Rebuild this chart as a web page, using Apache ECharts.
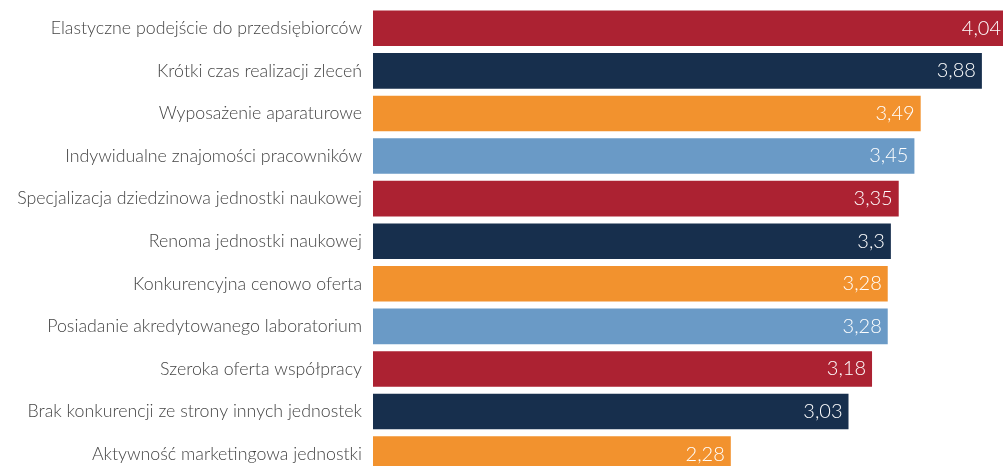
<!DOCTYPE html>
<html>
<head>
<meta charset="utf-8">
<script src="https://cdn.jsdelivr.net/npm/echarts@6/dist/echarts.min.js"></script>
<style>
  html, body { margin: 0; padding: 0; background: #fff; }
  #chart { width: 1003px; height: 466px; }
</style>
</head>
<body>
<div id="chart"></div>
<script>
// Factors rated by respondents (mean score), listed top to bottom
const categories = [
  'Elastyczne podejście do przedsiębiorców',
  'Krótki czas realizacji zleceń',
  'Wyposażenie aparaturowe',
  'Indywidualne znajomości pracowników',
  'Specjalizacja dziedzinowa jednostki naukowej',
  'Renoma jednostki naukowej',
  'Konkurencyjna cenowo oferta',
  'Posiadanie akredytowanego laboratorium',
  'Szeroka oferta współpracy',
  'Brak konkurencji ze strony innych jednostek',
  'Aktywność marketingowa jednostki'
];
const scores = [4.04, 3.88, 3.49, 3.45, 3.35, 3.3, 3.28, 3.28, 3.18, 3.03, 2.28];

// Bars cycle through a four-colour palette
const palette = ['#AC2232', '#172F4D', '#F2922E', '#6A9AC6'];

const chart = echarts.init(document.getElementById('chart'), null, { renderer: 'canvas' });

chart.setOption({
  animation: false,
  grid: {
    left: 373, top: 7, width: 634, height: 468.4,
    containLabel: false,
    outerBoundsMode: 'none'
  },
  xAxis: {
    type: 'value',
    min: 0,
    max: 4.04,
    show: false
  },
  yAxis: {
    type: 'category',
    data: categories,
    inverse: true,
    axisLine: { show: false },
    axisTick: { show: false },
    axisLabel: {
      margin: 11,
      color: '#454545',
      fontFamily: 'Lato',
      fontWeight: 300,
      fontSize: 17.8
    }
  },
  series: [{
    type: 'bar',
    data: scores.map((v, i) => ({ value: v, itemStyle: { color: palette[i % palette.length] } })),
    barCategoryGap: '16.5%',
    label: {
      show: true,
      position: 'insideRight',
      distance: 6,
      color: '#ffffff',
      fontFamily: 'Lato',
      fontWeight: 300,
      fontSize: 20,
      formatter: p => String(p.value).replace('.', ',')
    }
  }]
});
</script>
</body>
</html>
